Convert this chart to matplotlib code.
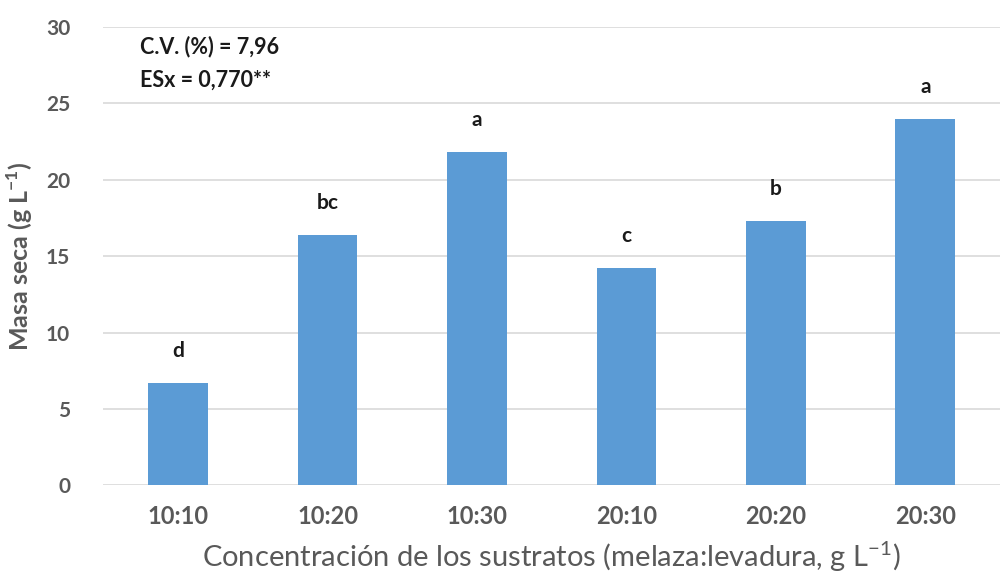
import matplotlib
matplotlib.use("Agg")
import matplotlib.pyplot as plt

categories = ["10:10", "10:20", "10:30", "20:10", "20:20", "20:30"]
values = [6.7, 16.4, 21.8, 14.2, 17.3, 24.0]
letters = ["d", "bc", "a", "c", "b", "a"]
yticks = [0, 5, 10, 15, 20, 25, 30]

plt.rcParams['font.family'] = ['Lato', 'DejaVu Sans']

fig = plt.figure(figsize=(10.04, 5.77), dpi=100)
ax = fig.add_axes([0.103, 0.159, 0.893, 0.794])

x = list(range(len(categories)))
ax.bar(x, values, width=0.4, color="#5B9BD5", zorder=3)
for xi, v, l in zip(x, values, letters):
    ax.annotate(l, (xi, v), xytext=(0, 23), textcoords="offset points",
                ha="center", va="center", fontsize=15, fontweight="bold", color="#1a1a1a")

ax.set_xlim(-0.5, len(categories) - 0.5)
ax.set_ylim(0, 30)
ax.set_yticks(yticks)
ax.set_xticks(x)
ax.set_xticklabels(categories)
ax.yaxis.grid(True, color="#d9d9d9", linewidth=1.2, zorder=0)
ax.set_axisbelow(True)
for s in ax.spines.values():
    s.set_visible(False)
ax.tick_params(axis="both", length=0, labelcolor="#595959")
ax.tick_params(axis="x", pad=14, labelsize=17)
ax.tick_params(axis="y", pad=24, labelsize=15)
for lab in ax.get_xticklabels() + ax.get_yticklabels():
    lab.set_fontweight("bold")

ax.set_ylabel("Masa seca (g L$^{\\mathregular{-1}}$)", fontsize=18, color="#595959",
              fontweight="bold", labelpad=8)
ax.set_xlabel("Concentración de los sustratos (melaza:levadura, g L$^{\\mathregular{-1}}$)",
              fontsize=21, color="#595959", labelpad=8)

ax.text(0.041, 0.958, "C.V. (%) = 7,96", transform=ax.transAxes, fontsize=15.5,
        fontweight="bold", color="#1a1a1a", va="center", ha="left")
ax.text(0.041, 0.885, "ESx = 0,770**", transform=ax.transAxes, fontsize=15.5,
        fontweight="bold", color="#1a1a1a", va="center", ha="left")

fig.savefig("out.png", dpi=100, facecolor="white")
